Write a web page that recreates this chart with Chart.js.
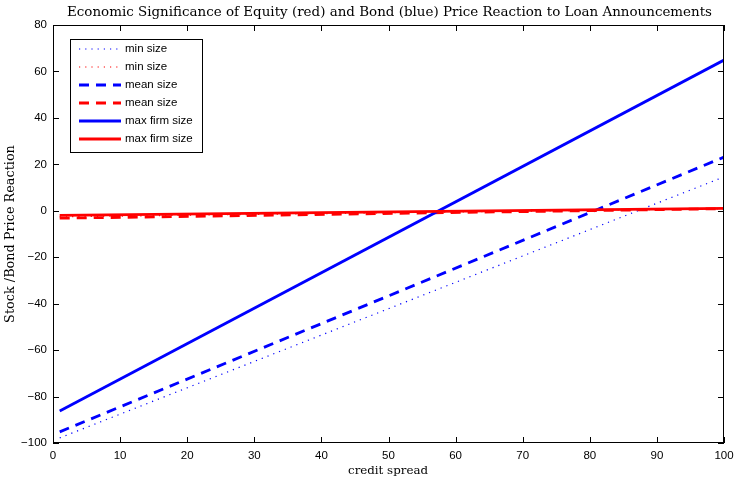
<!DOCTYPE html>
<html><head><meta charset="utf-8">
<script src="https://cdn.jsdelivr.net/npm/chart.js@4.4.1/dist/chart.umd.min.js"></script>
<style>html,body{margin:0;padding:0;background:#fff}#wrap{width:735px;height:480px}</style>
</head><body><div id="wrap"><canvas id="c" width="735" height="480"></canvas></div>
<script>
const xValues = [1, 100];
const blueMin = [-97.8, 14.6];
const redMin = [-2.6, 0.9];
const blueMean = [-95.2, 23.1];
const redMean = [-3.2, 0.9];
const blueMax = [-86.2, 64.9];
const redMax = [-2.0, 1.0];
const xTicks = [0,10,20,30,40,50,60,70,80,90,100];
const yTicks = [-100,-80,-60,-40,-20,0,20,40,60,80];
const labels = ['min size','min size','mean size','mean size','max firm size','max firm size'];
const titleText = 'Economic Significance of Equity (red) and Bond (blue) Price Reaction to Loan Announcements';
const xLabel = 'credit spread';
const yLabel = 'Stock /Bond Price Reaction';

const BLUE = '#0000ff', RED = '#ff0000';
function mk(vals){ return xValues.map((x,i)=>({x:x,y:vals[i]})); }
const styles = [
  {c:BLUE, w:1.2, d:[1.2,5]},
  {c:RED, w:1.2, d:[1.2,5]},
  {c:BLUE, w:2.8, d:[10,7]},
  {c:RED, w:2.8, d:[10,7]},
  {c:BLUE, w:2.8, d:[]},
  {c:RED, w:2.8, d:[]}
];
const series = [blueMin, redMin, blueMean, redMean, blueMax, redMax];
const datasets = series.map((s,i)=>({
  label: labels[i], data: mk(s), borderColor: styles[i].c, borderWidth: styles[i].w,
  borderDash: styles[i].d, pointRadius:0, fill:false, tension:0, order: 6-i
}));

function fitFont(ctx, text, target, family){
  ctx.font = '20px ' + family;
  const w = ctx.measureText(text).width;
  return (20*target/w).toFixed(2) + 'px ' + family;
}

const decor = {
  id:'decor',
  afterDraw(chart){
    const ctx = chart.ctx, a = chart.chartArea;
    const xs = chart.scales.x, ys = chart.scales.y;
    ctx.save();
    ctx.strokeStyle = '#000'; ctx.lineWidth = 1;
    ctx.strokeRect(a.left+0.5, a.top+0.5, a.right-a.left-1, a.bottom-a.top-1);
    ctx.beginPath();
    xTicks.forEach(t=>{ const p = Math.round(xs.getPixelForValue(t))+0.5;
      ctx.moveTo(p,a.bottom); ctx.lineTo(p,a.bottom-6);
      ctx.moveTo(p,a.top); ctx.lineTo(p,a.top+6); });
    yTicks.forEach(t=>{ const p = Math.round(ys.getPixelForValue(t))+0.5;
      ctx.moveTo(a.left,p); ctx.lineTo(a.left+6,p);
      ctx.moveTo(a.right,p); ctx.lineTo(a.right-6,p); });
    ctx.stroke();
    // title and axis labels
    const fam = '"DejaVu Serif"';
    ctx.fillStyle = '#000';
    ctx.textAlign = 'center'; ctx.textBaseline = 'middle';
    ctx.font = fitFont(ctx, titleText, 645, fam);
    ctx.fillText(titleText, 389.5, 12);
    ctx.font = fitFont(ctx, xLabel, 80, fam);
    ctx.fillText(xLabel, 388, 471);
    ctx.font = fitFont(ctx, yLabel, 178, fam);
    ctx.save(); ctx.translate(11, 234); ctx.rotate(-Math.PI/2);
    ctx.fillText(yLabel, 0, 0); ctx.restore();
    // legend
    const lx = 70, ly = 39, lw = 132, lh = 113;
    ctx.fillStyle = '#fff'; ctx.fillRect(lx, ly, lw, lh);
    ctx.strokeStyle = '#000'; ctx.lineWidth = 1;
    ctx.strokeRect(lx+0.5, ly+0.5, lw, lh);
    ctx.font = '11.5px "Liberation Sans"'; ctx.textAlign='left';
    datasets.forEach((d,i)=>{
      const y = ly + 10 + i*18;
      ctx.strokeStyle = d.borderColor; ctx.lineWidth = d.borderWidth;
      ctx.setLineDash(d.borderDash);
      ctx.beginPath(); ctx.moveTo(79, y); ctx.lineTo(121, y); ctx.stroke();
      ctx.setLineDash([]);
      ctx.fillStyle = '#000'; ctx.fillText(d.label, 125, y);
    });
    ctx.restore();
  }
};

new Chart(document.getElementById('c'), {
  type:'line',
  data:{datasets},
  options:{
    responsive:false, animation:false, devicePixelRatio:1,
    layout:{padding:{left:0, right:11, top:25, bottom:0}},
    plugins:{legend:{display:false}, title:{display:false}, tooltip:{enabled:false}},
    scales:{
      x:{type:'linear', min:0, max:100, grid:{display:false}, border:{display:false},
        afterBuildTicks(s){ s.ticks = xTicks.map(v=>({value:v})); },
        afterFit(s){ s.height = 37; },
        ticks:{color:'#000', font:{family:'Liberation Sans', size:11.5}, padding:-2, maxRotation:0,
          callback:(v)=>String(v)}},
      y:{type:'linear', min:-100, max:80, grid:{display:false}, border:{display:false},
        afterBuildTicks(s){ s.ticks = yTicks.map(v=>({value:v})); },
        afterFit(s){ s.width = 53; },
        ticks:{color:'#000', font:{family:'Liberation Sans', size:11.5}, padding:-2,
          callback:(v)=> v<0 ? '\u2212'+Math.abs(v) : String(v)}}
    }
  },
  plugins:[decor]
});
</script></body></html>
